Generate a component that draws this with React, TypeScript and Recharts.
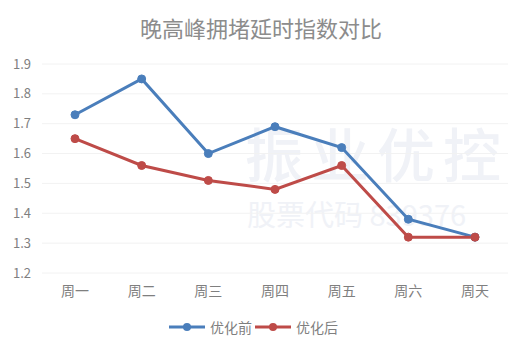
import React from "react";
import { LineChart, Line, XAxis, YAxis, CartesianGrid, Legend } from "recharts";

// 横轴：一周七天
const days = ["周一", "周二", "周三", "周四", "周五", "周六", "周天"];
// 优化前 / 优化后 的拥堵延时指数
const before = [1.73, 1.85, 1.6, 1.69, 1.62, 1.38, 1.32];
const after = [1.65, 1.56, 1.51, 1.48, 1.56, 1.32, 1.32];
const yTicks = [1.2, 1.3, 1.4, 1.5, 1.6, 1.7, 1.8, 1.9];

const BLUE = "#4a7ebb";
const RED = "#be4b48";
const FONT = '"Noto Sans CJK SC", "Microsoft YaHei", sans-serif';

const chartData = days.map((day, i) => ({
  day,
  优化前: before[i],
  优化后: after[i],
}));

// 图例：线段 + 圆点，和原图 Excel 风格一致
const LegendContent = () => {
  const items = [
    { name: "优化前", color: BLUE },
    { name: "优化后", color: RED },
  ];
  return (
    <div style={{ display: "flex", justifyContent: "center", alignItems: "center", fontFamily: FONT, fontSize: 14, color: "#7f7f7f", height: 20 }}>
      {items.map((it) => (
        <div key={it.name} style={{ display: "flex", alignItems: "center", marginRight: 2 }}>
          <svg width={38} height={12}>
            <line x1={1} y1={6} x2={37} y2={6} stroke={it.color} strokeWidth={3} />
            <circle cx={19} cy={6} r={4} fill={it.color} />
          </svg>
          <span style={{ marginLeft: 4 }}>{it.name}</span>
        </div>
      ))}
    </div>
  );
};

export default function App() {
  return (
    <div style={{ position: "fixed", left: 0, top: 0, width: 532, height: 353, background: "#fff", fontFamily: FONT }}>
      <div style={{ position: "absolute", top: 11, left: 0, width: 522, textAlign: "center", fontSize: 22, color: "#8c8c8c" }}>
        晚高峰拥堵延时指数对比
      </div>
      {/* 水印 */}
      <div style={{ position: "absolute", left: 245, top: 123, fontSize: 58, lineHeight: "58px", fontWeight: 500, color: "#f0f2f7", letterSpacing: 8 }}>
        振业优控
      </div>
      <div style={{ position: "absolute", left: 247, top: 199, fontSize: 29, lineHeight: "29px", color: "#f0f2f7" }}>
        股票代码 839376
      </div>
      <LineChart
        width={532}
        height={353}
        data={chartData}
        margin={{ top: 64, right: 24, bottom: 16, left: 0 }}
        style={{ position: "absolute", left: 0, top: 0 }}
      >
        <CartesianGrid vertical={false} stroke="#f2f2f2" />
        <XAxis
          dataKey="day"
          axisLine={false}
          tickLine={false}
          height={44}
          tickSize={0}
          tickMargin={13}
          padding={{ left: 33, right: 33 }}
          tick={{ fill: "#7f7f7f", fontSize: 14, fontFamily: FONT }}
        />
        <YAxis
          domain={[1.2, 1.9]}
          ticks={yTicks}
          tickFormatter={(v: number) => v.toFixed(1)}
          axisLine={false}
          tickLine={false}
          width={42}
          tickSize={0}
          tickMargin={11}
          tick={{ fill: "#7f7f7f", fontSize: 13, fontFamily: FONT }}
        />
        <Legend verticalAlign="bottom" height={20} content={<LegendContent />} />
        <Line dataKey="优化前" stroke={BLUE} strokeWidth={3} dot={{ r: 4, fill: BLUE, stroke: BLUE, strokeWidth: 1 }} isAnimationActive={false} />
        <Line dataKey="优化后" stroke={RED} strokeWidth={3} dot={{ r: 4, fill: RED, stroke: RED, strokeWidth: 1 }} isAnimationActive={false} />
      </LineChart>
    </div>
  );
}
